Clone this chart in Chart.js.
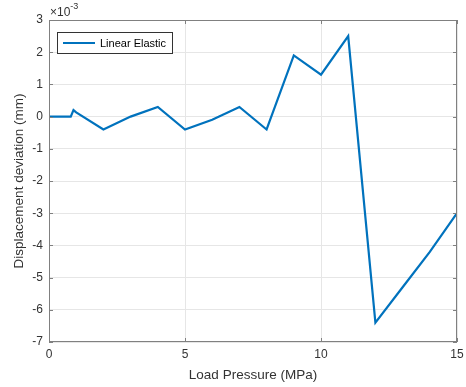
<!DOCTYPE html>
<html><head><meta charset="utf-8">
<script src="https://cdn.jsdelivr.net/npm/chart.js@4/dist/chart.umd.min.js"></script>
<style>html,body{margin:0;padding:0;background:#fff}#wrap{width:466px;height:387px}</style>
</head><body><div id="wrap"><canvas id="c" width="466" height="387"></canvas></div>
<script>
const loadPressure = [0, 0.8, 0.9, 1, 2, 3, 4, 5, 6, 7, 8, 9, 10, 11, 12, 13, 14, 15];
const deviation = [0, 0, 0.2, 0.13, -0.4, 0, 0.3, -0.4, -0.1, 0.3, -0.4, 1.9, 1.3, 2.5, -6.4, -5.3, -4.2, -3.0];
const xTicks = [0, 5, 10, 15];
const yTicks = [-7, -6, -5, -4, -3, -2, -1, 0, 1, 2, 3];
const seriesName = 'Linear Elastic';
const exponentLabel = '-3';

const FONT = '"Liberation Sans", Arial, sans-serif';
const AX = '#808080';
const TXT = '#333333';

const matlabPlugin = {
  id: 'matlab',
  afterDraw(chart) {
    const ctx = chart.ctx, a = chart.chartArea;
    const xs = chart.scales.x, ys = chart.scales.y;
    ctx.save();
    ctx.strokeStyle = AX; ctx.lineWidth = 1;
    ctx.beginPath();
    ctx.moveTo(a.left, a.top + 0.5); ctx.lineTo(a.right, a.top + 0.5);
    ctx.moveTo(a.right - 0.5, a.top); ctx.lineTo(a.right - 0.5, a.bottom);
    ctx.moveTo(a.left + 0.5, a.top); ctx.lineTo(a.left + 0.5, a.bottom);
    ctx.moveTo(a.left, a.bottom - 0.5); ctx.lineTo(a.right, a.bottom - 0.5);
    const L = 4;
    yTicks.forEach(v => {
      const y = Math.round(ys.getPixelForValue(v)) + 0.5;
      ctx.moveTo(a.left, y); ctx.lineTo(a.left + L, y);
      ctx.moveTo(a.right, y); ctx.lineTo(a.right - L, y);
    });
    xTicks.forEach(v => {
      const x = Math.round(xs.getPixelForValue(v)) + 0.5;
      ctx.moveTo(x, a.bottom); ctx.lineTo(x, a.bottom - L);
      ctx.moveTo(x, a.top); ctx.lineTo(x, a.top + L);
    });
    ctx.stroke();
    // exponent
    ctx.fillStyle = TXT;
    ctx.font = '12px ' + FONT;
    ctx.textBaseline = 'alphabetic'; ctx.textAlign = 'left';
    ctx.fillText('\u00d710', a.left + 1, a.top - 4);
    const w = ctx.measureText('\u00d710').width;
    ctx.font = '9px ' + FONT;
    ctx.fillText(exponentLabel, a.left + 1 + w, a.top - 11);
    // legend
    const lx = 57, ly = 32, lw = 115, lh = 21;
    ctx.fillStyle = '#fff';
    ctx.fillRect(lx, ly, lw, lh);
    ctx.strokeStyle = TXT; ctx.lineWidth = 1;
    ctx.strokeRect(lx + 0.5, ly + 0.5, lw, lh);
    ctx.strokeStyle = '#0072BD'; ctx.lineWidth = 2;
    ctx.beginPath(); ctx.moveTo(lx + 6, ly + 11); ctx.lineTo(lx + 38, ly + 11); ctx.stroke();
    ctx.fillStyle = '#000';
    ctx.font = '11px ' + FONT;
    ctx.textBaseline = 'middle';
    ctx.fillText(seriesName, lx + 43, ly + 11.5);
    ctx.restore();
  }
};

new Chart(document.getElementById('c'), {
  type: 'line',
  data: {
    datasets: [{
      label: seriesName,
      data: loadPressure.map((x, i) => ({ x, y: deviation[i] })),
      borderColor: '#0072BD',
      borderWidth: 2.2,
      pointRadius: 0,
      tension: 0,
      fill: false
    }]
  },
  options: {
    responsive: false,
    animation: false,
    devicePixelRatio: 1,
    layout: { padding: { left: 0, right: 9, top: 20, bottom: 0 } },
    plugins: { legend: { display: false }, tooltip: { enabled: false } },
    scales: {
      x: {
        type: 'linear', min: 0, max: 15,
        afterBuildTicks: s => { s.ticks = xTicks.map(v => ({ value: v })); },
        afterFit: s => { s.height = 45; s.paddingLeft = 0; s.paddingRight = 0; },
        grid: { color: '#e6e6e6', drawTicks: false, lineWidth: 1 },
        border: { display: false },
        ticks: { color: TXT, font: { family: FONT, size: 12 }, padding: 5, maxRotation: 0 },
        title: { display: true, text: 'Load Pressure (MPa)', color: TXT, font: { family: FONT, size: 13.5 }, padding: { top: 1 } }
      },
      y: {
        type: 'linear', min: -7, max: 3,
        afterBuildTicks: s => { s.ticks = yTicks.map(v => ({ value: v })); },
        afterFit: s => { s.width = 49; s.paddingTop = 0; s.paddingBottom = 0; },
        grid: { color: '#e6e6e6', drawTicks: false, lineWidth: 1 },
        border: { display: false },
        ticks: { color: TXT, font: { family: FONT, size: 12 }, padding: 6 },
        title: { display: true, text: 'Displacement deviation (mm)', color: TXT, font: { family: FONT, size: 13.5 }, padding: { top: 11, bottom: 2 } }
      }
    }
  },
  plugins: [matlabPlugin]
});
</script></body></html>
